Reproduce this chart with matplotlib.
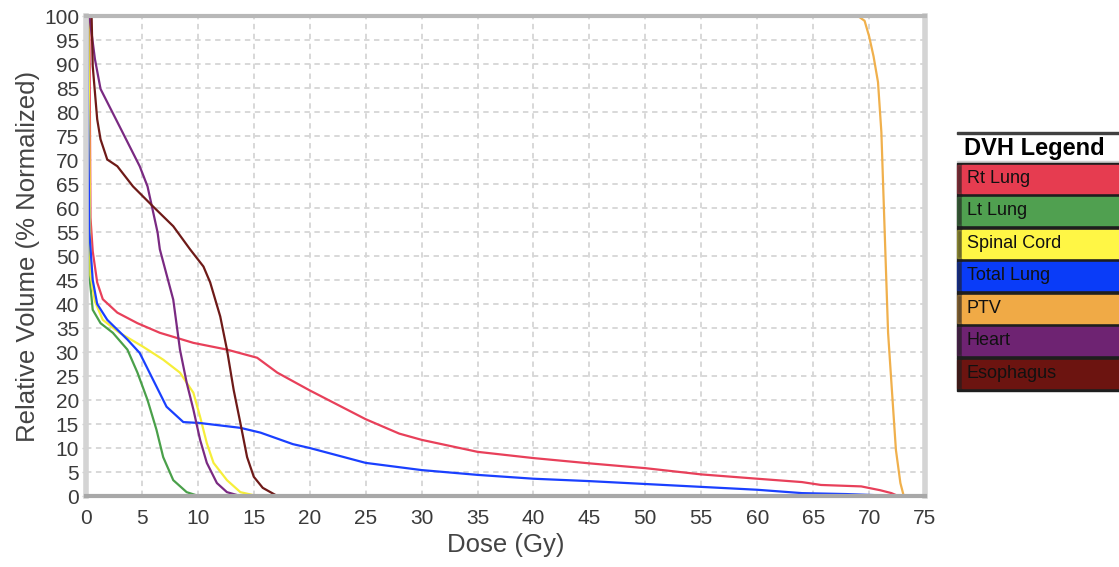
import matplotlib
matplotlib.use("Agg")
import matplotlib.pyplot as plt
from matplotlib.patches import Rectangle

plt.rcParams['font.family'] = ['Liberation Sans', 'DejaVu Sans']

# ---- data (dose in Gy, relative volume in %) ----
rt_lung_dose = [0.0, 0.3, 0.4, 0.6, 1.0, 1.5, 2.8, 4.6, 6.6, 9.6, 12.6, 15.3, 17.1, 20.0, 22.5, 25.0,
                28.0, 30.0, 35.0, 40.0, 45.0, 50.0, 55.0, 60.0, 64.0, 65.7, 69.3, 71.0, 72.0, 72.6]
rt_lung_vol = [100, 100, 58, 51, 44.5, 41, 38.2, 36, 34, 31.9, 30.5, 28.8, 25.7, 22, 19, 16,
               13, 11.7, 9.2, 7.9, 6.8, 5.8, 4.5, 3.6, 2.9, 2.3, 2.0, 1.2, 0.6, 0.0]

lt_lung_dose = [0.0, 0.2, 0.3, 0.6, 1.3, 2.4, 3.7, 4.6, 5.5, 6.3, 6.9, 7.8, 9.0, 9.8, 10.8]
lt_lung_vol = [100, 100, 46, 38.8, 36, 34, 30.5, 25.7, 20, 13.8, 8.1, 3.3, 0.8, 0.2, 0.0]

cord_dose = [0.0, 0.2, 0.4, 0.8, 1.5, 3.0, 5.1, 6.9, 8.4, 9.0, 9.6, 10.2, 10.8, 11.4, 12.6, 13.8, 15.3]
cord_vol = [100, 100, 46, 40.5, 36.7, 34, 31.1, 28.4, 25.7, 23.6, 21.5, 16.5, 11, 6.9, 3.3, 0.8, 0.0]

total_dose = [0.0, 0.1, 0.3, 0.6, 1.0, 1.9, 3.7, 4.8, 6.0, 7.2, 8.7, 10.2, 13.8, 15.6, 18.5, 20.0,
              25.0, 30.0, 35.0, 40.0, 45.0, 50.0, 55.0, 60.0, 64.0, 68.0, 72.6]
total_vol = [100, 100, 55, 45, 40, 36.7, 32.6, 29.8, 24.2, 18.6, 15.4, 15.2, 14.2, 13.2, 10.8, 10,
             6.9, 5.4, 4.4, 3.6, 3.1, 2.5, 1.9, 1.3, 0.6, 0.4, 0.0]

ptv_dose = [67.7, 69.0, 69.6, 70.0, 70.4, 70.8, 71.1, 71.3, 71.5, 71.7, 72.1, 72.4, 72.8, 73.1]
ptv_vol = [100, 100, 99, 95.8, 91.6, 86.2, 75.8, 61.8, 47.8, 34, 20, 9.6, 2.7, 0.0]

heart_dose = [0.3, 0.8, 1.3, 3.0, 4.8, 5.5, 6.4, 6.6, 7.8, 8.4, 9.0, 9.6, 10.2, 10.8, 11.7, 12.6, 13.8]
heart_vol = [100, 91, 84.8, 77, 68.7, 64.5, 54.9, 51.4, 40.9, 30.5, 23.6, 18, 11.7, 6.9, 2.7, 0.8, 0.0]

eso_dose = [0.5, 0.6, 1.0, 1.3, 1.9, 2.8, 4.2, 6.0, 7.8, 9.3, 10.5, 11.1, 12.0, 12.6, 13.2, 13.8,
            14.4, 15.0, 15.8, 17.1]
eso_vol = [100, 89.6, 78.5, 74.3, 70.1, 68.7, 64.5, 60.3, 56.2, 51.4, 47.8, 44.5, 37.4, 30.5, 22.1, 15.2,
           8.1, 4.0, 1.7, 0.0]

legend_labels = ["Rt Lung", "Lt Lung", "Spinal Cord", "Total Lung", "PTV", "Heart", "Esophagus"]
line_colors = ["#e8405a", "#4aa04a", "#f6ee3a", "#1a40ff", "#f0b04c", "#7a2a82", "#6e1a18"]
legend_colors = ["#e63c50", "#50a050", "#fff645", "#0a3cf8", "#f0aa46", "#6e2372", "#6c1410"]

x_ticks = list(range(0, 80, 5))
y_ticks = list(range(0, 105, 5))

series = [(rt_lung_dose, rt_lung_vol), (lt_lung_dose, lt_lung_vol), (cord_dose, cord_vol),
          (total_dose, total_vol), (ptv_dose, ptv_vol), (heart_dose, heart_vol), (eso_dose, eso_vol)]

W, H = 1119, 567
fig = plt.figure(figsize=(W / 100, H / 100), dpi=100)
ax = fig.add_axes([86 / W, 1 - 496 / H, (925 - 86) / W, (496 - 16) / H])

for (d, v), c in zip(series, line_colors):
    ax.plot(d, v, color=c, lw=1.6, solid_joinstyle='round', zorder=3)

ax.set_xlim(0, 75)
ax.set_ylim(0, 100)
ax.set_xticks(x_ticks)
ax.set_yticks(y_ticks)
ax.grid(True, color="#d6d6d6", lw=1.3, linestyle=(0, (3, 2.5)))
ax.tick_params(axis='x', length=0, labelsize=15, labelcolor="#3a3a3a", pad=9)
ax.tick_params(axis='y', length=3, width=1, color="#cccccc", labelsize=15, labelcolor="#3a3a3a", pad=2)

ax.spines['top'].set_color("#b8b8b8")
ax.spines['top'].set_linewidth(3)
ax.spines['bottom'].set_color("#a8a8a8")
ax.spines['bottom'].set_linewidth(3)
ax.spines['left'].set_color("#d4d4d4")
ax.spines['left'].set_linewidth(4)
ax.spines['right'].set_color("#d4d4d4")
ax.spines['right'].set_linewidth(4)
for s in ax.spines.values():
    s.set_zorder(4)

ax.set_xlabel("Dose (Gy)", fontsize=18.5, color="#444444", labelpad=4)
ax.set_ylabel("Relative Volume (% Normalized)", fontsize=18.5, color="#444444", labelpad=3)

# ---- legend panel (figure pixel coords) ----
lg = fig.add_axes([0, 0, 1, 1], facecolor='none')
lg.set_xlim(0, W)
lg.set_ylim(H, 0)
lg.axis('off')

lg.add_patch(Rectangle((957, 132), W - 957, 2, color="#404040"))
lg.text(964, 149, "DVH Legend", fontsize=17, fontweight='bold', color="black", va='center', ha='left')
lg.add_patch(Rectangle((957, 161), W - 957, 2, color="#d0d0d0"))

row_top = 163
pitch = 32.5
for i, (lab, col) in enumerate(zip(legend_labels, legend_colors)):
    y0 = row_top + i * pitch
    lg.add_patch(Rectangle((957, y0), W - 957, pitch, color="#1e1e1e"))
    lg.add_patch(Rectangle((962, y0 + 1.5), W - 962, pitch - 4.5, color=col))
    lg.add_patch(Rectangle((957, y0 + 1.5), 5, pitch - 4.5, color=col, alpha=0.35))
    lg.text(967, y0 + pitch / 2 - 1, lab, fontsize=13, color="#111111", va='center', ha='left')

fig.savefig("out.png", dpi=100)
